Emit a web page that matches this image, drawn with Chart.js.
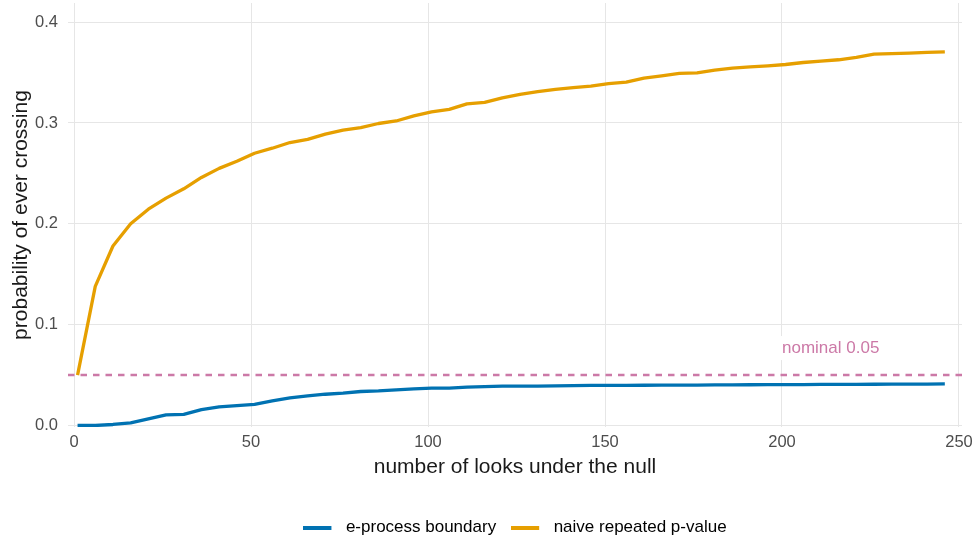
<!DOCTYPE html>
<html>
<head>
<meta charset="utf-8">
<script src="https://cdn.jsdelivr.net/npm/chart.js@4/dist/chart.umd.min.js"></script>
<style>
  html, body { margin: 0; padding: 0; background: #ffffff; }
  #wrap { width: 976px; height: 544px; }
</style>
</head>
<body>
<div id="wrap"><canvas id="chart" width="976" height="544"></canvas></div>
<script>
// Number of looks at the data (simulated under the null)
const LOOKS = [1, 6, 11, 16, 21, 26, 31, 36, 41, 46, 51, 56, 61, 66, 71, 76, 81, 86, 91, 96,
  101, 106, 111, 116, 121, 126, 131, 136, 141, 146, 151, 156, 161, 166, 171, 176, 181, 186, 191, 196,
  201, 206, 211, 216, 221, 226, 231, 236, 241, 246];

// Probability of ever crossing the e-process boundary
const EPROCESS = [0.000, 0.000, 0.0010, 0.0026, 0.0066, 0.0106, 0.0110, 0.0158, 0.0185, 0.0198,
  0.0210, 0.0244, 0.0274, 0.0294, 0.0310, 0.0320, 0.0337, 0.0343, 0.0353, 0.0363,
  0.0370, 0.0370, 0.0380, 0.0386, 0.0390, 0.0390, 0.0390, 0.0393, 0.0395, 0.0397,
  0.0398, 0.0398, 0.0399, 0.0400, 0.0400, 0.0400, 0.0402, 0.0403, 0.0404, 0.0405,
  0.0406, 0.0406, 0.0407, 0.0407, 0.0408, 0.0409, 0.0410, 0.0410, 0.0411, 0.0412];

// Probability of ever rejecting with a naive repeated p-value
const NAIVE = [0.050, 0.138, 0.178, 0.200, 0.2145, 0.2255, 0.2347, 0.246, 0.255, 0.262,
  0.270, 0.275, 0.2806, 0.2838, 0.289, 0.293, 0.2955, 0.2995, 0.302, 0.307,
  0.311, 0.3135, 0.319, 0.3205, 0.325, 0.3284, 0.331, 0.3333, 0.335, 0.3366,
  0.339, 0.3406, 0.3446, 0.3468, 0.3492, 0.3498, 0.3525, 0.3545, 0.3557, 0.3567,
  0.358, 0.360, 0.3614, 0.3627, 0.365, 0.3683, 0.3687, 0.3693, 0.370, 0.3706];

const SERIES_NAMES = ['e-process boundary', 'naive repeated p-value'];
const NOMINAL = 0.05;
const NOMINAL_TEXT = 'nominal 0.05';
const NOMINAL_LABEL_AT = 200;

const X_TICKS = [0, 50, 100, 150, 200, 250];
const Y_TICKS = [0, 0.1, 0.2, 0.3, 0.4];
const X_RANGE = [-1.7, 250.85];
const Y_RANGE = [-0.0015, 0.419];

const BLUE = '#0072B2';
const ORANGE = '#E69F00';
const PINK = '#CC79A7';
const FONT = '"Liberation Sans", Arial, Helvetica, sans-serif';

// Short line swatches for the legend keys
function swatch(color) {
  const c = document.createElement('canvas');
  c.width = 34; c.height = 4;
  const g = c.getContext('2d');
  g.fillStyle = color;
  g.fillRect(0, 0, 28, 4);
  return c;
}
const SWATCHES = [swatch(BLUE), swatch(ORANGE)];

// Text label sitting above the nominal reference line
const nominalLabel = {
  id: 'nominalLabel',
  beforeDatasetsDraw(chart) {
    const { ctx, scales: { x, y } } = chart;
    const px = x.getPixelForValue(NOMINAL_LABEL_AT);
    const py = y.getPixelForValue(NOMINAL) - 27;
    ctx.save();
    ctx.font = '17px ' + FONT;
    const w = ctx.measureText(NOMINAL_TEXT).width;
    ctx.fillStyle = '#ffffff';
    ctx.fillRect(px - 5, py - 12, w + 10, 24);
    ctx.fillStyle = PINK;
    ctx.textBaseline = 'middle';
    ctx.textAlign = 'left';
    ctx.fillText(NOMINAL_TEXT, px, py);
    ctx.restore();
  }
};

// Centre the legend under the plotting panel rather than the whole canvas
const legendUnderPanel = {
  id: 'legendUnderPanel',
  afterLayout(chart) {
    const l = chart.legend;
    if (!l) return;
    l.left = chart.chartArea.left;
    l.right = chart.chartArea.right;
    l.width = l.right - l.left;
    l.top += 2;
    l.bottom += 2;
  }
};

const toPoints = (ys) => LOOKS.map((x, i) => ({ x, y: ys[i] }));

new Chart(document.getElementById('chart'), {
  type: 'line',
  data: {
    datasets: [
      {
        label: SERIES_NAMES[0],
        data: toPoints(EPROCESS),
        borderColor: BLUE,
        backgroundColor: BLUE,
        borderWidth: 3.3,
        pointRadius: 0,
        tension: 0,
        borderJoinStyle: 'round'
      },
      {
        label: SERIES_NAMES[1],
        data: toPoints(NAIVE),
        borderColor: ORANGE,
        backgroundColor: ORANGE,
        borderWidth: 3.3,
        pointRadius: 0,
        tension: 0,
        borderJoinStyle: 'round'
      },
      {
        label: NOMINAL_TEXT,
        data: [{ x: X_RANGE[0], y: NOMINAL }, { x: X_RANGE[1], y: NOMINAL }],
        borderColor: PINK,
        borderWidth: 2.6,
        borderDash: [6.5, 6],
        pointRadius: 0,
        tension: 0
      }
    ]
  },
  options: {
    responsive: false,
    animation: false,
    devicePixelRatio: 1,
    layout: { padding: { left: 0, right: 14, top: 3, bottom: 0 } },
    plugins: {
      tooltip: { enabled: false },
      legend: {
        position: 'bottom',
        align: 'center',
        labels: {
          usePointStyle: true,
          pointStyleWidth: 34,
          padding: 15,
          color: '#1a1a1a',
          font: { family: FONT, size: 17 },
          filter: (item) => item.datasetIndex < 2,
          generateLabels: (chart) => chart.data.datasets.map((d, i) => ({
            text: d.label,
            pointStyle: SWATCHES[i],
            fillStyle: d.borderColor,
            strokeStyle: d.borderColor,
            lineWidth: 0,
            hidden: false,
            datasetIndex: i
          }))
        }
      }
    },
    scales: {
      x: {
        type: 'linear',
        min: X_RANGE[0],
        max: X_RANGE[1],
        afterBuildTicks: (s) => { s.ticks = X_TICKS.map(v => ({ value: v })); },
        afterFit: (s) => { s.height = 75; s.paddingLeft = 0; s.paddingRight = 0; },
        grid: { color: '#e6e6e6', lineWidth: 1, drawTicks: false },
        border: { display: false },
        ticks: {
          padding: 6,
          color: '#4d4d4d',
          font: { family: FONT, size: 16.5 },
          maxRotation: 0,
          callback: (v) => String(v)
        },
        title: {
          display: true,
          text: 'number of looks under the null',
          color: '#1a1a1a',
          font: { family: FONT, size: 21 },
          padding: { top: 0, bottom: 22 }
        }
      },
      y: {
        type: 'linear',
        min: Y_RANGE[0],
        max: Y_RANGE[1],
        afterBuildTicks: (s) => { s.ticks = Y_TICKS.map(v => ({ value: v })); },
        afterFit: (s) => { s.width = 68; s.paddingTop = 0; s.paddingBottom = 0; },
        grid: { color: '#e6e6e6', lineWidth: 1, drawTicks: false },
        border: { display: false },
        ticks: {
          padding: 10,
          color: '#4d4d4d',
          font: { family: FONT, size: 16.5 },
          callback: (v) => Number(v).toFixed(1)
        },
        title: {
          display: true,
          text: 'probability of ever crossing',
          color: '#1a1a1a',
          font: { family: FONT, size: 21 },
          padding: { top: 9, bottom: 0 }
        }
      }
    }
  },
  plugins: [nominalLabel, legendUnderPanel]
});
</script>
</body>
</html>
